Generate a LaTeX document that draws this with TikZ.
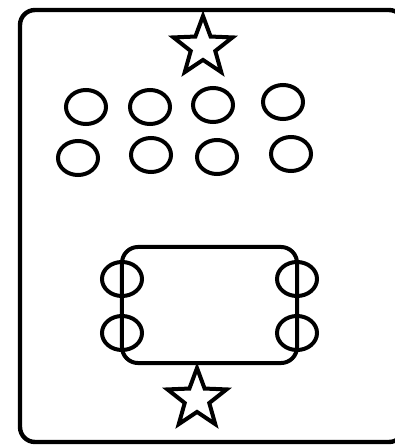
\documentclass[tikz,border=0pt]{standalone}
\usetikzlibrary{shapes.geometric}

\begin{document}
\begin{tikzpicture}[
  x=0.025cm, y=-0.025cm,
  bead/.style={draw, ellipse, line width=0.1cm, minimum width=1.0cm, minimum height=0.85cm, inner sep=0pt},
  mark star/.style={draw, star, star points=5, star point ratio=2.4, line width=0.1cm, minimum size=1.55cm, inner sep=0pt},
  frame/.style={line width=0.11cm, rounded corners=0.375cm},
  ]
  \useasboundingbox (0,0) rectangle (394,445);

  % Outer frame
  \draw[frame] (20,10) rectangle (404,442);

  % Top star
  \node[mark star] (topstar) at (203,47) {};

  % Two rows of beads
  \node[bead] (a1) at (86,107) {};
  \node[bead] (a2) at (150,107) {};
  \node[bead] (a3) at (213,105) {};
  \node[bead] (a4) at (283,102) {};
  \node[bead] (b1) at (78,158) {};
  \node[bead] (b2) at (151,155) {};
  \node[bead] (b3) at (217,157) {};
  \node[bead] (b4) at (291,154) {};

  % Rounded box with beads on its sides
  \node[draw, line width=0.1cm, rounded corners=0.4cm, minimum width=4.375cm, minimum height=2.9cm, inner sep=0pt] (box) at (209.5,305) {};
  \node[bead] (l1) at (122,279) {};
  \node[bead] (l2) at (122,333) {};
  \node[bead] (r1) at (297,279) {};
  \node[bead] (r2) at (297,333) {};

  % Bottom star hanging from the box
  \node[mark star] (botstar) at (197,399) {};
  \draw[line width=0.1cm] (box.south -| botstar) -- (botstar.north);

\end{tikzpicture}
\end{document}
